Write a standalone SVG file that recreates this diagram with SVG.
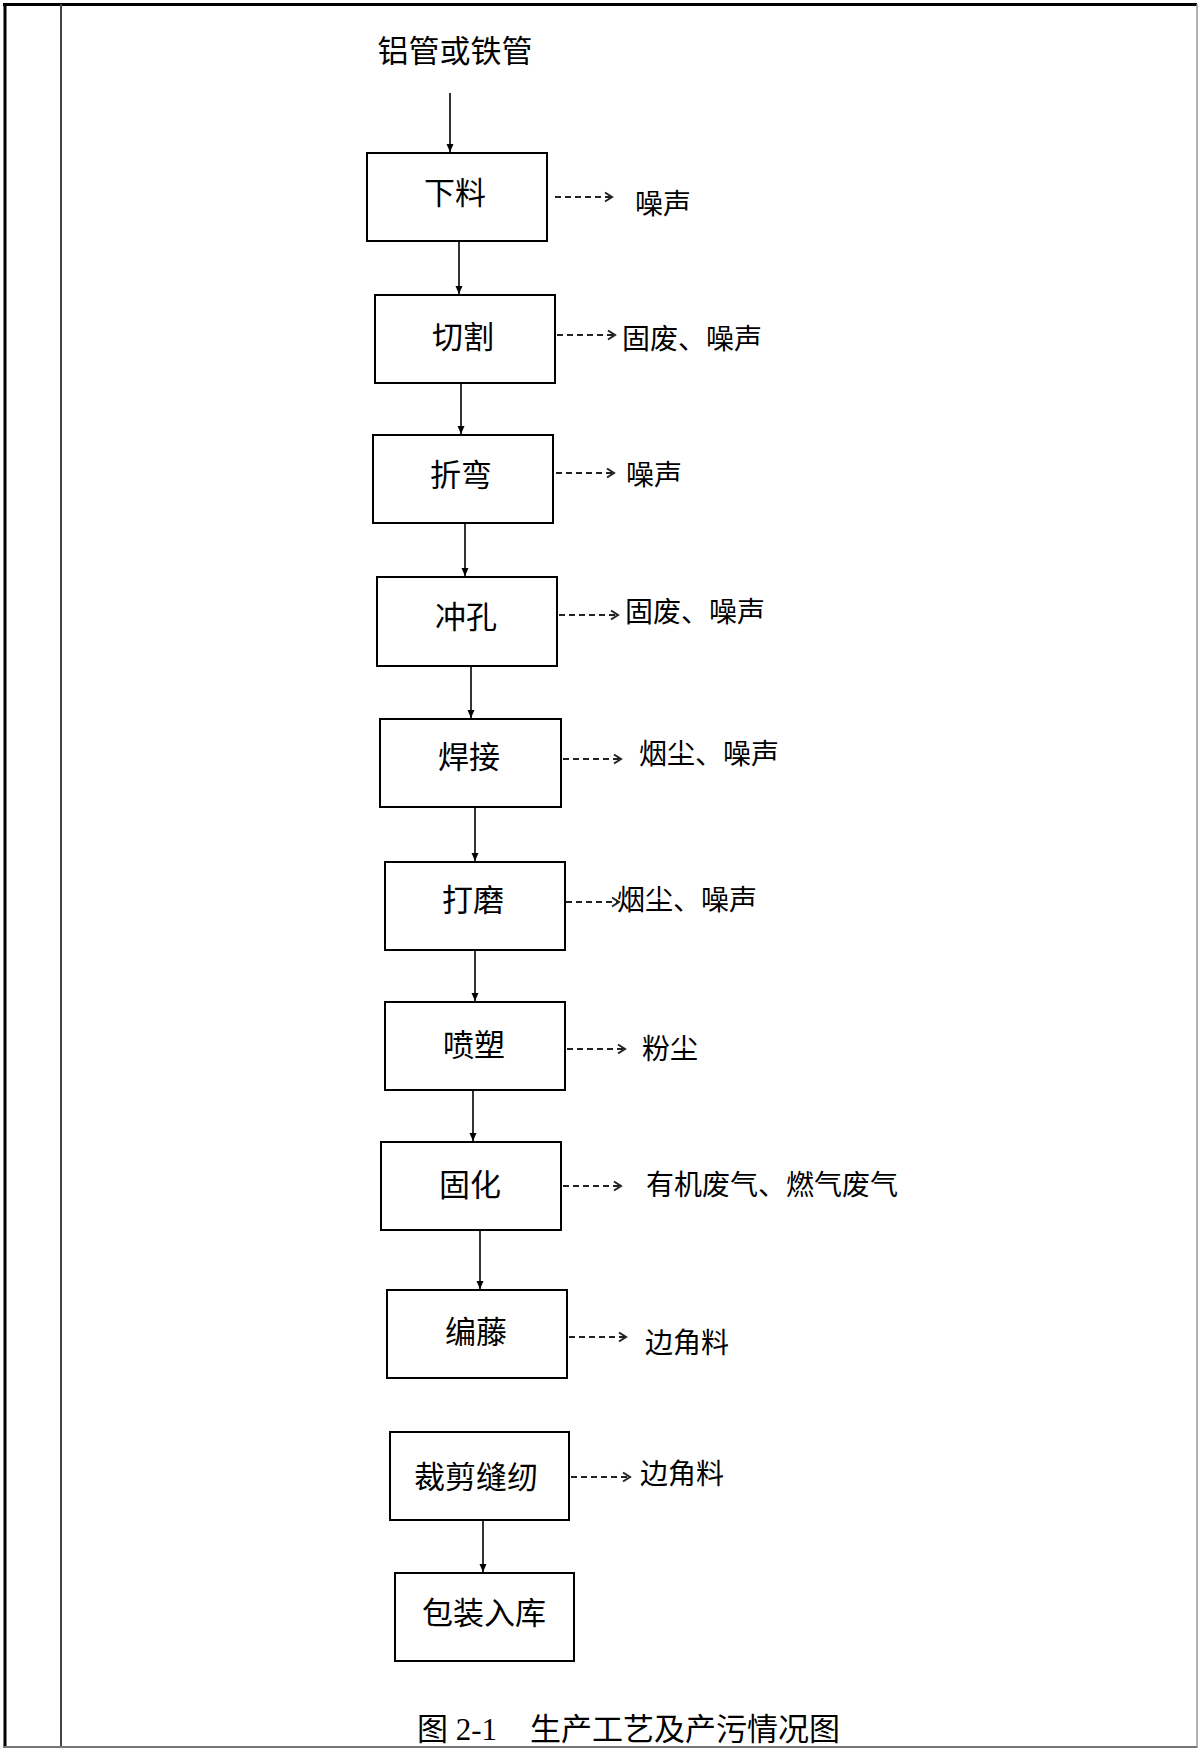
<svg xmlns="http://www.w3.org/2000/svg" width="1198" height="1748" viewBox="0 0 1198 1748">
<style>
.box{fill:#fff;stroke:#000;stroke-width:2}
.nt{font-family:"Noto Sans CJK SC","Liberation Sans",sans-serif;font-size:31px;fill:#000;text-anchor:middle}
.lt{font-family:"Noto Sans CJK SC","Liberation Sans",sans-serif;font-size:28px;fill:#000}
.flow{stroke:#000;stroke-width:1.6;fill:none;marker-end:url(#ah)}
.emit{stroke:#222;stroke-width:2;fill:none;stroke-dasharray:6 4;marker-end:url(#oh)}
.cap{font-family:"Liberation Serif","Noto Sans CJK SC",serif;font-size:31px;fill:#000}
</style>
<defs>
<marker id="ah" markerWidth="10" markerHeight="10" refX="9" refY="5" orient="auto" markerUnits="userSpaceOnUse">
<path d="M1,1.5 L9,5 L1,8.5 Z" fill="#000"/>
</marker>
<marker id="oh" markerWidth="12" markerHeight="12" refX="9" refY="6" orient="auto" markerUnits="userSpaceOnUse">
<path d="M2,1.5 L9,6 L2,10.5" fill="none" stroke="#222" stroke-width="2"/>
</marker>
</defs>
<rect width="1198" height="1748" fill="#fff"/>
<g id="frame">
<line x1="3" y1="4.5" x2="1197" y2="4.5" stroke="#000" stroke-width="3"/>
<line x1="5" y1="3" x2="5" y2="1748" stroke="#000" stroke-width="3"/>
<line x1="61" y1="4" x2="61" y2="1748" stroke="#444" stroke-width="2"/>
<line x1="1197" y1="4" x2="1197" y2="1748" stroke="#999" stroke-width="1.5"/>
<line x1="3" y1="1747" x2="1197" y2="1747" stroke="#777" stroke-width="2"/>
</g>
<g id="start"><text class="nt" x="455" y="62">铝管或铁管</text></g>
<g id="n1"><rect class="box" x="367" y="153" width="180" height="88"/><text class="nt" x="455" y="204">下料</text></g>
<g id="n2"><rect class="box" x="375" y="295" width="180" height="88"/><text class="nt" x="463" y="348">切割</text></g>
<g id="n3"><rect class="box" x="373" y="435" width="180" height="88"/><text class="nt" x="461" y="486">折弯</text></g>
<g id="n4"><rect class="box" x="377" y="577" width="180" height="89"/><text class="nt" x="466" y="628">冲孔</text></g>
<g id="n5"><rect class="box" x="380" y="719" width="181" height="88"/><text class="nt" x="469" y="768">焊接</text></g>
<g id="n6"><rect class="box" x="385" y="862" width="180" height="88"/><text class="nt" x="473" y="911">打磨</text></g>
<g id="n7"><rect class="box" x="385" y="1002" width="180" height="88"/><text class="nt" x="474" y="1056">喷塑</text></g>
<g id="n8"><rect class="box" x="381" y="1142" width="180" height="88"/><text class="nt" x="470" y="1196">固化</text></g>
<g id="n9"><rect class="box" x="387" y="1290" width="180" height="88"/><text class="nt" x="476" y="1343">编藤</text></g>
<g id="n10"><rect class="box" x="390" y="1432" width="179" height="88"/><text class="nt" x="476" y="1488">裁剪缝纫</text></g>
<g id="n11"><rect class="box" x="395" y="1573" width="179" height="88"/><text class="nt" x="484" y="1624">包装入库</text></g>
<g id="outputs">
<text class="lt" x="635" y="214">噪声</text>
<text class="lt" x="622" y="349">固废、噪声</text>
<text class="lt" x="626" y="485">噪声</text>
<text class="lt" x="625" y="622">固废、噪声</text>
<text class="lt" x="639" y="764">烟尘、噪声</text>
<text class="lt" x="617" y="910">烟尘、噪声</text>
<text class="lt" x="642" y="1059">粉尘</text>
<text class="lt" x="646" y="1195">有机废气、燃气废气</text>
<text class="lt" x="645" y="1353">边角料</text>
<text class="lt" x="640" y="1484">边角料</text>
</g>
<g id="connectors">
<line class="flow" x1="450" y1="93" x2="450" y2="152"/>
<line class="flow" x1="459" y1="241" x2="459" y2="294"/>
<line class="flow" x1="461" y1="383" x2="461" y2="434"/>
<line class="flow" x1="465" y1="523" x2="465" y2="576"/>
<line class="flow" x1="471" y1="666" x2="471" y2="718"/>
<line class="flow" x1="475" y1="807" x2="475" y2="861"/>
<line class="flow" x1="475" y1="950" x2="475" y2="1001"/>
<line class="flow" x1="473" y1="1090" x2="473" y2="1141"/>
<line class="flow" x1="480" y1="1230" x2="480" y2="1289"/>
<line class="flow" x1="483" y1="1520" x2="483" y2="1572"/>
<line class="emit" x1="555" y1="197" x2="612" y2="197"/>
<line class="emit" x1="557" y1="335" x2="615" y2="335"/>
<line class="emit" x1="556" y1="473" x2="614" y2="473"/>
<line class="emit" x1="559" y1="615" x2="618" y2="615"/>
<line class="emit" x1="563" y1="759" x2="621" y2="759"/>
<line class="emit" x1="566" y1="902" x2="619" y2="902"/>
<line class="emit" x1="567" y1="1049" x2="625" y2="1049"/>
<line class="emit" x1="563" y1="1186" x2="621" y2="1186"/>
<line class="emit" x1="569" y1="1337" x2="626" y2="1337"/>
<line class="emit" x1="571" y1="1477" x2="630" y2="1477"/>
</g>
<g id="caption">
<text class="cap" x="417" y="1740">图 2-1</text>
<text class="cap" x="530" y="1740">生产工艺及产污情况图</text>
</g>
</svg>
